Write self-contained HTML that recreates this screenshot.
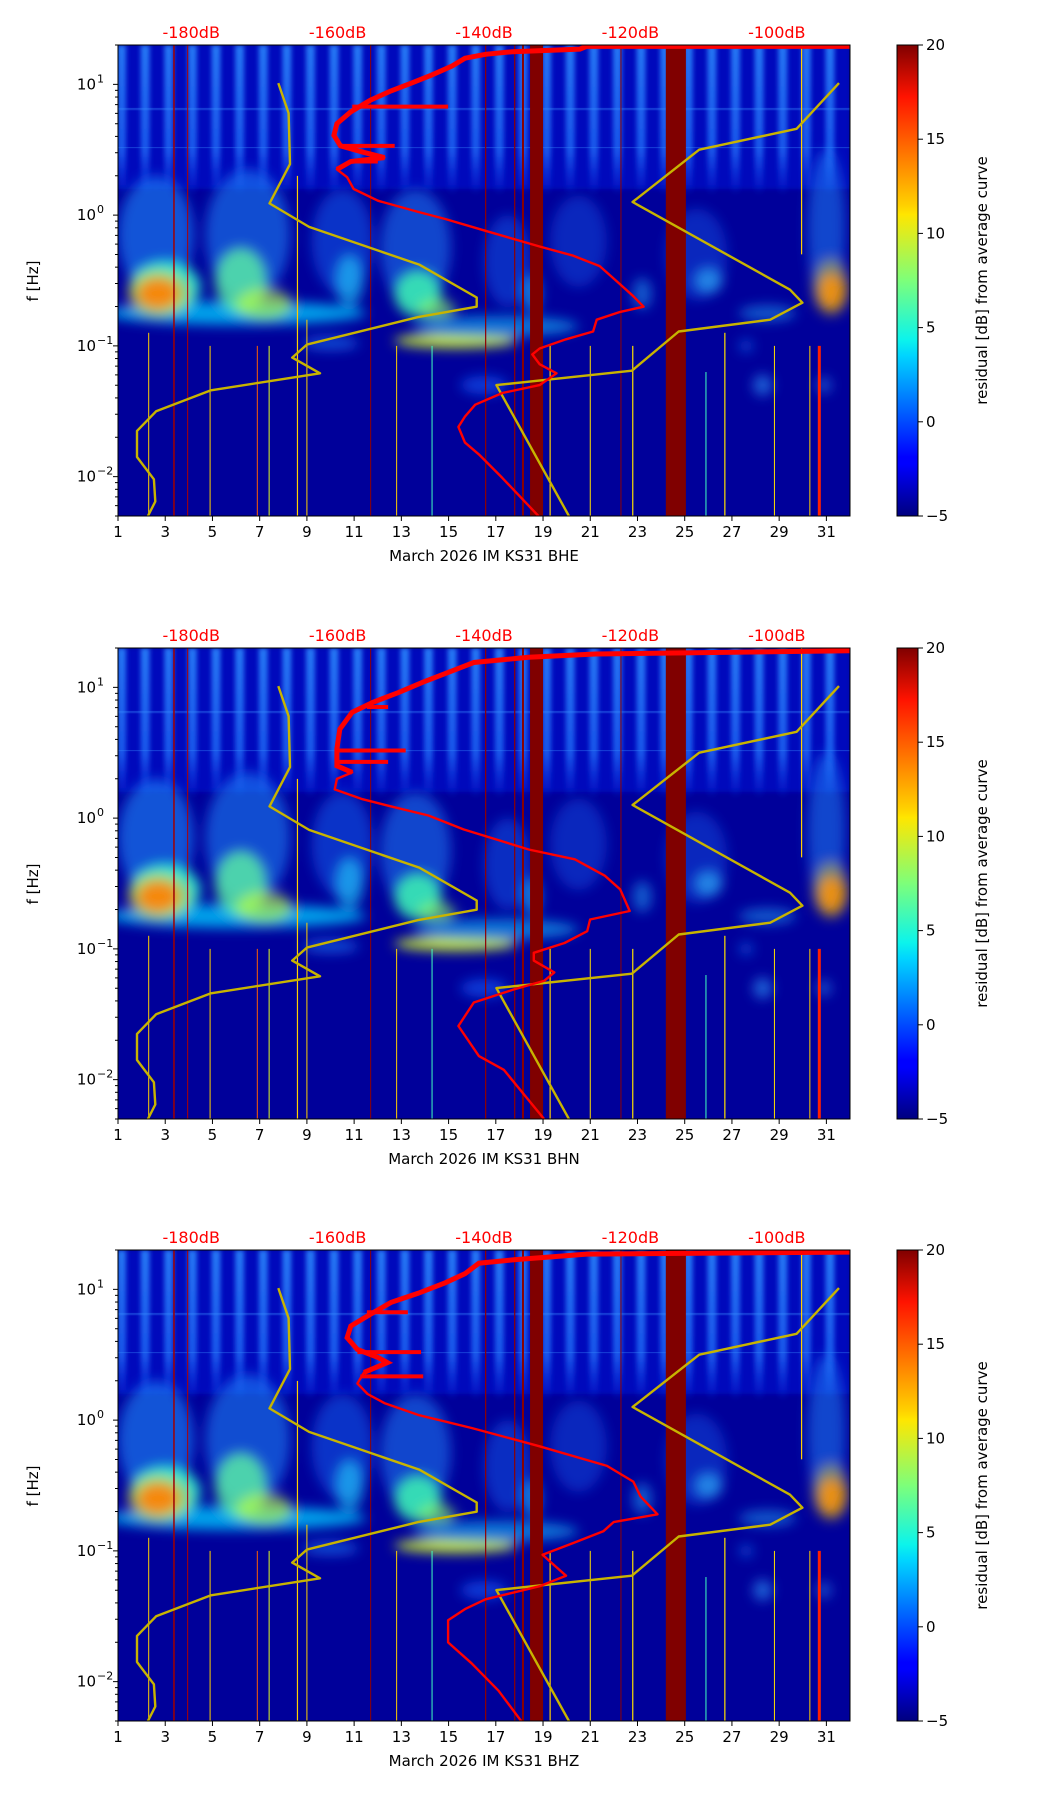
<!DOCTYPE html>
<html><head><meta charset="utf-8">
<style>
html,body{margin:0;padding:0;background:#fff;}
svg{display:block;font-family:"DejaVu Sans","Liberation Sans",sans-serif;}
</style></head>
<body>
<svg id="fig" width="1052" height="1806" viewBox="0 0 1052 1806" xmlns="http://www.w3.org/2000/svg">
<defs>
<linearGradient id="jet" x1="0" y1="1" x2="0" y2="0">
<stop offset="0" stop-color="#00007f"/><stop offset="0.11" stop-color="#0000ff"/><stop offset="0.125" stop-color="#0000ff"/>
<stop offset="0.34" stop-color="#00d4ff"/><stop offset="0.375" stop-color="#0cf4eb"/><stop offset="0.5" stop-color="#7dff7a"/>
<stop offset="0.64" stop-color="#ffe600"/><stop offset="0.66" stop-color="#ffd000"/><stop offset="0.89" stop-color="#ff1300"/><stop offset="1" stop-color="#800000"/>
</linearGradient>
<filter id="blur6" x="-50%" y="-50%" width="200%" height="200%"><feGaussianBlur stdDeviation="6"/></filter>
<filter id="blur3" x="-50%" y="-50%" width="200%" height="200%"><feGaussianBlur stdDeviation="2.5"/></filter>
<linearGradient id="stripefade" x1="0" y1="0" x2="0" y2="1">
<stop offset="0" stop-color="#2d8cff" stop-opacity="0.85"/><stop offset="0.7" stop-color="#2478ff" stop-opacity="0.7"/><stop offset="1" stop-color="#1a5cff" stop-opacity="0"/>
</linearGradient>
</defs>
</svg>
<script>
// ---- data ----
const dayTicks=[1,3,5,7,9,11,13,15,17,19,21,23,25,27,29,31];
const dbTicks=[-180,-160,-140,-120,-100];
const cbTicks=[-5,0,5,10,15,20];
const channels=["BHE","BHN","BHZ"];
// low noise model (dB, log10 f)
const nlnmDB=[-168.1,-166.7,-166.5,-169.3,-163.9,-148.8,-141.0,-141.0,-149.0,-164.2,-166.2,-162.4,-177.3,-184.8,-187.4,-187.4,-185.1,-184.9,-186.0];
const nlnmLF=[1.01,0.78,0.39,0.09,-0.09,-0.38,-0.63,-0.70,-0.78,-0.99,-1.09,-1.21,-1.34,-1.50,-1.65,-1.85,-2.02,-2.19,-2.31];
// high noise model
const nhnmDB=[-91.5,-97.3,-110.6,-119.7,-98.2,-96.5,-100.9,-113.4,-119.8,-138.3,-128.3];
const nhnmLF=[1.01,0.66,0.50,0.10,-0.57,-0.67,-0.80,-0.89,-1.19,-1.30,-2.31];
// station average curves per channel
const red1DB=[-90,-126.0,-126.9,-136.1,-139.8,-142.6,-144.4,-147.2,-149.9,-152.7,-155.5,-158.2,-160.1,-160.5,-159.6,-156.4,-153.6,-158.2,-160.1,-158.7,-157.8,-154.5,-149.0,-145.3,-139.8,-132.4,-127.8,-124.2,-121.4,-119.6,-118.2,-121.4,-124.6,-125.1,-128.8,-132.4,-133.4,-132.4,-130.1,-132.4,-137.5,-141.2,-142.6,-143.5,-142.6,-140.7,-137.5,-132.4];
const red1LF=[1.29,1.29,1.27,1.25,1.23,1.20,1.14,1.07,1.01,0.95,0.88,0.79,0.70,0.61,0.53,0.48,0.44,0.41,0.35,0.29,0.20,0.11,0.025,-0.03,-0.12,-0.24,-0.31,-0.39,-0.53,-0.62,-0.70,-0.74,-0.80,-0.89,-0.95,-1.02,-1.065,-1.14,-1.21,-1.30,-1.36,-1.45,-1.54,-1.62,-1.74,-1.83,-2.01,-2.31];
const red2DB=[-90,-124.8,-133.9,-141.4,-144.2,-148.3,-151.7,-155.2,-158.0,-159.7,-160.1,-160.1,-158.0,-160.1,-160.4,-156.6,-153.1,-147.6,-142.8,-133.9,-127.6,-123.5,-121.4,-120.1,-125.5,-125.9,-129.0,-133.2,-133.2,-130.4,-131.8,-135.9,-141.4,-143.5,-140.7,-137.3,-131.8];
const red2LF=[1.28,1.255,1.23,1.19,1.13,1.04,0.96,0.885,0.81,0.68,0.53,0.40,0.35,0.30,0.22,0.145,0.095,0.02,-0.086,-0.24,-0.315,-0.44,-0.545,-0.71,-0.775,-0.865,-0.955,-1.03,-1.09,-1.18,-1.245,-1.31,-1.41,-1.59,-1.82,-1.925,-2.30];
const red3DB=[-90,-126.0,-136.1,-140.7,-142.6,-145.3,-149.0,-152.7,-155.5,-158.2,-158.7,-157.3,-154.5,-153.2,-156.4,-157.3,-155.9,-153.6,-149.0,-141.7,-132.4,-123.2,-119.6,-118.6,-116.3,-122.3,-123.7,-127.8,-132.0,-130.6,-128.8,-132.4,-139.8,-142.6,-144.9,-144.9,-141.7,-138.0,-134.8];
const red3LF=[1.285,1.27,1.225,1.20,1.12,1.05,0.97,0.90,0.81,0.72,0.63,0.54,0.48,0.44,0.365,0.28,0.20,0.13,0.04,-0.06,-0.20,-0.35,-0.47,-0.585,-0.72,-0.78,-0.85,-0.94,-1.03,-1.10,-1.19,-1.27,-1.37,-1.445,-1.53,-1.70,-1.86,-2.07,-2.31];
// horizontal spikes on the red curves: [log f, dB start, dB end]
const spikes1=[[0.83,-158,-144.9],[0.53,-159.6,-152.2],[0.41,-158,-154.5]];
const spikes2=[[0.85,-156,-153.1],[0.517,-160.1,-150.7],[0.43,-160.1,-153.1]];
const spikes3=[[0.825,-156,-150.4],[0.52,-157.3,-148.6],[0.335,-156.9,-148.3]];
// spectrogram features: [day, log f, rx (days), ry (decades), color, opacity]
const blobs=[
 [2.6,-0.15,1.6,0.45,"#1f8cff",0.6],[6.5,-0.15,1.8,0.5,"#1f8cff",0.55],[10.5,-0.2,1.3,0.4,"#1a70ff",0.45],[13.6,-0.25,1.5,0.45,"#1f8cff",0.5],
 [17.5,-0.35,1.0,0.35,"#1a70ff",0.4],[20.5,-0.2,1.2,0.35,"#1a70ff",0.35],[25.5,-0.3,1.3,0.35,"#1a70ff",0.35],[31.0,-0.1,0.8,0.6,"#1f8cff",0.5],
 [6,-0.75,5.5,0.09,"#00c8ff",0.8],[3,-0.55,1.5,0.2,"#30ffd0",0.85],[2.7,-0.6,0.9,0.12,"#ff3000",0.9],[2.7,-0.6,1.3,0.18,"#ffd000",0.5],
 [6.2,-0.5,1.1,0.25,"#60ffa0",0.75],[7.2,-0.68,1.2,0.12,"#c8ff30",0.6],[10.8,-0.5,0.6,0.2,"#20d8ff",0.6],
 [13.7,-0.6,1.0,0.18,"#40ffb0",0.8],[14.5,-0.72,0.8,0.08,"#90ff60",0.6],[15.3,-0.96,2.6,0.055,"#d8ff20",0.9],[17,-0.85,3.5,0.08,"#10c0ff",0.6],
 [18.5,-0.6,0.4,0.15,"#20c0ff",0.6],[23.2,-0.6,0.4,0.12,"#20b0ff",0.5],[26.0,-0.5,0.6,0.1,"#30c0ff",0.6],[28.5,-0.75,1.2,0.06,"#20b0ff",0.5],
 [31.2,-0.58,0.55,0.14,"#ff6000",0.85],[31.2,-0.55,0.8,0.22,"#ffe000",0.4],[28.3,-1.3,0.4,0.08,"#30a0ff",0.6],[30.9,-1.3,0.3,0.06,"#30a0ff",0.5],
 [16.5,-1.3,1.0,0.07,"#1060ff",0.6],[10,-0.98,1.2,0.05,"#1a80ff",0.6],[27.6,-1.0,0.3,0.05,"#1a80ff",0.5]
];
// thin vertical event lines: [day, color, top lf, bottom lf, width]
const vlines=[
 [3.37,"#a00000",1.3,-2.3,1.5],[3.95,"#b00000",1.3,-2.3,1],[11.7,"#900000",1.3,-2.3,1],[16.57,"#900000",1.3,-2.3,1.2],
 [17.8,"#900000",1.3,-2.3,1.2],[18.15,"#8a0000",1.3,-2.3,2],[22.3,"#900000",1.3,-2.3,1],[30.7,"#ff2000",-1.0,-2.3,3],
 [8.6,"#ffd000",0.3,-2.3,1.2],[26.7,"#ffe000",-0.9,-2.3,1.2],[29.95,"#ffd000",1.3,-0.3,1.2],[2.3,"#ffd000",-0.9,-2.3,1],
 [4.9,"#ffd000",-1.0,-2.3,1],[7.4,"#e0ff20",-1.0,-2.3,1],[9.0,"#ffd000",-0.8,-2.3,1],[12.8,"#ffd000",-1.0,-2.3,1],
 [14.3,"#40ffc0",-1.0,-2.3,1],[19.3,"#ffd000",-1.0,-2.3,1.2],[21.0,"#ffe000",-1.0,-2.3,1],[22.8,"#ffe000",-1.0,-2.3,1.2],
 [28.8,"#ffe000",-1.0,-2.3,1],[30.3,"#ffd000",-1.0,-2.3,1],[6.9,"#ff6000",-1.0,-2.3,1],[25.9,"#40ffc0",-1.2,-2.3,1]
];
const redBands=[[18.45,19.0],[24.2,25.05]];

// ---- layout ----
const NS="http://www.w3.org/2000/svg";
const svg=document.getElementById("fig");
const L=118,W=732,H=471,tops=[45,648,1250];
const LFmax=Math.log10(20),LFmin=Math.log10(0.005);
function el(tag,attrs,parent){const e=document.createElementNS(NS,tag);for(const k in attrs)e.setAttribute(k,attrs[k]);(parent||svg).appendChild(e);return e;}
const xDay=d=>L+(d-1)/31*W;
const xDB=db=>L+(db+190)/100*W;

function panel(pi){
 const T=tops[pi];
 const yF=lf=>T+(LFmax-lf)/(LFmax-LFmin)*H;
 const g=el("g",{});
 
 
 const cid="clip"+pi;
 const cp=el("clipPath",{id:cid},g);el("rect",{x:L,y:T,width:W,height:H},cp);
 const pg=el("g",{"clip-path":"url(#"+cid+")"},g);
 const bg=el("rect",{x:L,y:T,width:W,height:H,fill:"#00009a"},pg);
 
 
 el("rect",{x:L,y:T,width:W,height:yF(0.2)-T,fill:"#0010c8",opacity:0.75,filter:"url(#blur3)"},pg);
 for(let d=1;d<=31;d++){
  const s=el("rect",{x:xDay(d+0.15)-4.5,y:T,width:9,height:yF(0.15)-T,fill:"url(#stripefade)",filter:"url(#blur3)"},pg);
  
  
 }
 const bgp=el("g",{filter:"url(#blur6)"},pg);
 blobs.forEach(b=>{
  const cy=yF(b[1]),ry=Math.abs(yF(b[1]+b[3])-cy);
  const e=el("ellipse",{cx:xDay(b[0]),cy:cy,rx:b[2]*W/31,ry:ry,fill:b[4],opacity:b[5]},bgp);
  
  
 });
 [0.82,0.81,0.52].forEach(lf=>el("rect",{x:L,y:yF(lf),width:W,height:1,fill:"#3a90ff",opacity:0.4},pg));
 vlines.forEach(v=>{
  const ln=el("rect",{x:xDay(v[0])-v[4]/2,y:yF(v[2]),width:v[4],height:yF(v[3])-yF(v[2]),fill:v[1]},pg);
  
  
 });
 redBands.forEach(r=>{
  const b=el("rect",{x:xDay(r[0]),y:T,width:xDay(r[1])-xDay(r[0]),height:H,fill:"#800000"},pg);
  
  
 });
 const pts=(dbs,lfs)=>dbs.map((d,i)=>xDB(d).toFixed(1)+","+yF(lfs[i]).toFixed(1)).join(" ");
 const n1=el("polyline",{points:pts(nlnmDB,nlnmLF),fill:"none",stroke:"#c8b400",'stroke-width':2.4,'stroke-linejoin':"round"},pg);
 
 
 const n2=el("polyline",{points:pts(nhnmDB,nhnmLF),fill:"none",stroke:"#c8b400",'stroke-width':2.4,'stroke-linejoin':"round"},pg);
 
 
 const rdb=[red1DB,red2DB,red3DB][pi],rlf=[red1LF,red2LF,red3LF][pi],sp=[spikes1,spikes2,spikes3][pi];
 const rc=el("polyline",{points:pts(rdb,rlf),fill:"none",stroke:"#ff0000",'stroke-width':2.4,'stroke-linejoin':"round"},pg);
 
 
 const thick=rdb.map((d,i)=>[d,rlf[i]]).filter(p=>p[1]>0.3);
 el("polyline",{points:thick.map(p=>xDB(p[0]).toFixed(1)+","+yF(p[1]).toFixed(1)).join(" "),fill:"none",stroke:"#ff0000",'stroke-width':5},pg);
 sp.forEach(s=>{
  const l=el("line",{x1:xDB(s[1]),x2:xDB(s[2]),y1:yF(s[0]),y2:yF(s[0]),stroke:"#ff0000",'stroke-width':4},pg);
  
  
 });
 el("rect",{x:L,y:T,width:W,height:H,fill:"none",stroke:"#000",'stroke-width':1},g);
 for(let e=-3;e<=1;e++){
  for(let m=1;m<=9;m++){
   const lf=e+Math.log10(m);
   if(lf<LFmin||lf>LFmax)continue;
   const y=yF(lf);
   el("line",{x1:L,x2:L-(m===1?5:3),y1:y,y2:y,stroke:"#000",'stroke-width':1},g);
   if(m===1){
    const t=el("text",{x:L-22,y:y+5,'font-size':15,'text-anchor':"end"},g);
    t.textContent="10";
    
    
    const s=el("text",{x:L-21,y:y-2,'font-size':11,'text-anchor':"start"},g);
    s.textContent=(e<0?"\u2212":"")+Math.abs(e);
    
    
   }
  }
 }
 const yl=el("text",{x:0,y:0,'font-size':15,'text-anchor':"middle",transform:"translate(38,"+(T+236)+") rotate(-90)"},g);
 yl.textContent="f [Hz]";
 
 
 dayTicks.forEach(d=>{
  const x=xDay(d);
  el("line",{x1:x,x2:x,y1:T+H,y2:T+H+5,stroke:"#000"},g);
  const t=el("text",{x:x,y:T+H+21,'font-size':15,'text-anchor':"middle"},g);
  t.textContent=d;
  
  
 });
 const xl=el("text",{x:484,y:T+H+45,'font-size':15,'text-anchor':"middle"},g);
 xl.textContent="March 2026 IM KS31  "+channels[pi];
 
 
 dbTicks.forEach(db=>{
  const t=el("text",{x:xDB(db),y:T-7,'font-size':16,'text-anchor':"middle",fill:"#ff0000"},g);
  t.textContent=db+"dB";
  
  
 });
 const cbx=897,cbw=21;
 const cb=el("rect",{x:cbx,y:T,width:cbw,height:H,fill:"url(#jet)",stroke:"#000",'stroke-width':1},g);
 
 
 cbTicks.forEach(v=>{
  const y=T+H-(v+5)/25*H;
  el("line",{x1:cbx+cbw,x2:cbx+cbw+5,y1:y,y2:y,stroke:"#000"},g);
  const t=el("text",{x:cbx+cbw+8,y:y+5,'font-size':15},g);
  t.textContent=v<0?"\u2212"+Math.abs(v):v;
  
  
 });
 const cl=el("text",{x:0,y:0,'font-size':15,'text-anchor':"middle",transform:"translate(987,"+(T+H/2)+") rotate(-90)"},g);
 cl.textContent="residual [dB] from average curve";
 
 
}
[0,1,2].forEach(panel);
</script>
</body></html>
